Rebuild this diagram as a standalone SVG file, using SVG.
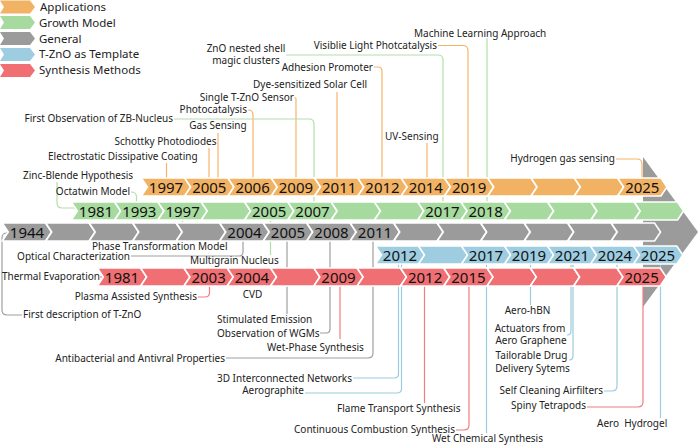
<svg xmlns="http://www.w3.org/2000/svg" xmlns:xlink="http://www.w3.org/1999/xlink" width="700" height="446" viewBox="0 0 700 446">
<style>
text{font-family:"Noto Sans","Open Sans","DejaVu Sans",sans-serif;fill:#222}
.lb{font-size:10px}
.lg{font-size:11.5px}
.yr{font-size:15px;text-anchor:middle;fill:#111}
.e{text-anchor:end}
.m{text-anchor:middle}
.seg{stroke:#fff;stroke-width:1.6}
.o{fill:#F2B263}.g{fill:#A6DA9F}.k{fill:#9B9B9B}.b{fill:#9ECDE2}.r{fill:#EF6F73}
#connectors path{fill:none;stroke-width:1.2}
.co{stroke:#F5B46A}.cg{stroke:#B2E0AB}.ck{stroke:#A0A0A0}.cb{stroke:#9CCCDD}.cr{stroke:#F07D80}
</style>
<defs>
<path id="chev" d="M0,0 H43.3 L49.3,9 L43.3,18 H0 L6,9 Z"/>
<path id="lchev" d="M0,0 H30 L35,6.5 L30,13 H0 L4,6.5 Z"/>
</defs>
<rect width="700" height="446" fill="#fff"/>

<g id="legend">
<use href="#lchev" y="0.5" class="o"/><text class="lg" x="40" y="11">Applications</text>
<use href="#lchev" y="16" class="g"/><text class="lg" x="39" y="26.5">Growth Model</text>
<use href="#lchev" y="32" class="k"/><text class="lg" x="39" y="42.5">General</text>
<use href="#lchev" y="48" class="b"/><text class="lg" x="39" y="58.3">T-ZnO as Template</text>
<use href="#lchev" y="64" class="r"/><text class="lg" x="39" y="74.3">Synthesis Methods</text>
</g>

<g id="arrow-head"><polygon points="643,157 698,232 643,307" fill="#9B9B9B"/></g>

<g id="connectors">
<path class="co" d="M438,45.5 H463 Q468,45.5 468,50.5 V180"/>
<path class="co" d="M374,67 H378 Q382,67 382,71 V180"/>
<path class="co" d="M337,92 V180"/>
<path class="co" d="M294.5,97.5 Q296,97.5 296,99 V180"/>
<path class="co" d="M248,110 Q253,110 253,115 V180"/>
<path class="co" d="M218,133 V180"/>
<path class="co" d="M209,148 V180"/>
<path class="co" d="M166.5,163 V180"/>
<path class="co" d="M427,143 V180"/>
<path class="co" d="M616,159 H637 Q642,159 642,164 V180"/>
<path class="cg" d="M487,38 V203"/>
<path class="cg" d="M286,55 H438 Q443,55 443,60 V203"/>
<path class="cg" d="M174,119 H309 Q314,119 314,124 V203"/>
<path class="cg" d="M57,182 V203 Q57,208 62,208 H76"/>
<path class="cg" d="M131,192 Q136.5,192 136.5,197 V203"/>
<path class="cg" d="M182.5,219 V241"/>
<path class="cg" d="M270.5,219 V255"/>
<path class="ck" d="M131,256 H239 Q243,256 243,252 V240"/>
<path class="ck" d="M22,315 H7 Q2,315 2,310 V238 Q2,233 7,233 H9"/>
<path class="ck" d="M287,240 V314"/>
<path class="ck" d="M320,333 H326 Q330,333 330,329 V240"/>
<path class="ck" d="M226,358 H368 Q373,358 373,353 V240"/>
<path class="cb" d="M353,378 H394 Q398.5,378 398.5,373.5 V263"/>
<path class="cb" d="M305,393 H397 Q401.5,393 401.5,388.5 V263"/>
<path class="cb" d="M486.5,263 V433"/>
<path class="cb" d="M530.5,263 V305"/>
<path class="cb" d="M571,263 V331 Q571,335 567,335"/>
<path class="cb" d="M573,263 V356 Q573,360 569,360"/>
<path class="cb" d="M604,391 H612 Q617,391 617,386 V263"/>
<path class="cb" d="M660.5,263 V418"/>
<path class="cr" d="M100,277 H104"/>
<path class="cr" d="M198,297 H205 Q209.5,297 209.5,292.5 V285"/>
<path class="cr" d="M340,285 V339"/>
<path class="cr" d="M424.5,285 V403"/>
<path class="cr" d="M456,430 H464 Q469,430 469,425 V285"/>
<path class="cr" d="M587,407 H638 Q643,407 643,402 V285"/>
</g>

<g id="row-applications" class="seg o">
<use href="#chev" x="141.35" y="178"/><use href="#chev" x="184.65" y="178"/><use href="#chev" x="227.95" y="178"/><use href="#chev" x="271.25" y="178"/><use href="#chev" x="314.55" y="178"/><use href="#chev" x="357.85" y="178"/><use href="#chev" x="401.15" y="178"/><use href="#chev" x="444.45" y="178"/><use href="#chev" x="487.75" y="178"/><use href="#chev" x="531.05" y="178"/><use href="#chev" x="574.35" y="178"/><use href="#chev" x="617.65" y="178"/>
</g>
<g id="row-growth" class="seg g">
<use href="#chev" x="71.35" y="202"/><use href="#chev" x="114.65" y="202"/><use href="#chev" x="157.95" y="202"/><use href="#chev" x="201.25" y="202"/><use href="#chev" x="244.55" y="202"/><use href="#chev" x="287.85" y="202"/><use href="#chev" x="331.15" y="202"/><use href="#chev" x="374.45" y="202"/><use href="#chev" x="417.75" y="202"/><use href="#chev" x="461.05" y="202"/><use href="#chev" x="504.35" y="202"/><use href="#chev" x="547.65" y="202"/><use href="#chev" x="590.95" y="202"/><use href="#chev" x="634.25" y="202"/>
</g>
<g id="row-general" class="seg k">
<use href="#chev" x="2.25" y="223"/><use href="#chev" x="45.75" y="223"/><use href="#chev" x="89.25" y="223"/><use href="#chev" x="132.75" y="223"/><use href="#chev" x="176.25" y="223"/><use href="#chev" x="219.75" y="223"/><use href="#chev" x="263.25" y="223"/><use href="#chev" x="306.75" y="223"/><use href="#chev" x="350.25" y="223"/><use href="#chev" x="393.75" y="223"/><use href="#chev" x="437.25" y="223"/><use href="#chev" x="480.75" y="223"/><use href="#chev" x="524.25" y="223"/><use href="#chev" x="567.75" y="223"/><use href="#chev" x="611.25" y="223"/>
</g>
<g id="row-template" class="seg b">
<use href="#chev" x="375.5" y="246"/><use href="#chev" x="418.5" y="246"/><use href="#chev" x="461.5" y="246"/><use href="#chev" x="504.5" y="246"/><use href="#chev" x="547.5" y="246"/><use href="#chev" x="590.5" y="246"/><use href="#chev" x="633.5" y="246"/>
</g>
<g id="row-synthesis" class="seg r">
<use href="#chev" x="97.35" y="268"/><use href="#chev" x="140.65" y="268"/><use href="#chev" x="183.95" y="268"/><use href="#chev" x="227.25" y="268"/><use href="#chev" x="270.55" y="268"/><use href="#chev" x="313.85" y="268"/><use href="#chev" x="357.15" y="268"/><use href="#chev" x="400.45" y="268"/><use href="#chev" x="443.75" y="268"/><use href="#chev" x="487.05" y="268"/><use href="#chev" x="530.35" y="268"/><use href="#chev" x="573.65" y="268"/><use href="#chev" x="616.95" y="268"/>
</g>

<g id="years">
<g id="y-app"><text class="yr" x="166" y="193.3">1997</text><text class="yr" x="209.3" y="193.3">2005</text><text class="yr" x="252.6" y="193.3">2006</text><text class="yr" x="295.9" y="193.3">2009</text><text class="yr" x="339.2" y="193.3">2011</text><text class="yr" x="382.5" y="193.3">2012</text><text class="yr" x="425.8" y="193.3">2014</text><text class="yr" x="469.1" y="193.3">2019</text><text class="yr" x="642.3" y="193.3">2025</text></g>
<g id="y-growth"><text class="yr" x="96" y="217.3">1981</text><text class="yr" x="139.3" y="217.3">1993</text><text class="yr" x="182.6" y="217.3">1997</text><text class="yr" x="269.2" y="217.3">2005</text><text class="yr" x="312.5" y="217.3">2007</text><text class="yr" x="442.4" y="217.3">2017</text><text class="yr" x="485.7" y="217.3">2018</text></g>
<g id="y-general"><text class="yr" x="27" y="238.3">1944</text><text class="yr" x="244.5" y="238.3">2004</text><text class="yr" x="288" y="238.3">2005</text><text class="yr" x="331.5" y="238.3">2008</text><text class="yr" x="375" y="238.3">2011</text></g>
<g id="y-template"><text class="yr" x="400" y="261.3">2012</text><text class="yr" x="486" y="261.3">2017</text><text class="yr" x="529" y="261.3">2019</text><text class="yr" x="572" y="261.3">2021</text><text class="yr" x="615" y="261.3">2024</text><text class="yr" x="658" y="261.3">2025</text></g>
<g id="y-synthesis"><text class="yr" x="122" y="283.3">1981</text><text class="yr" x="208.6" y="283.3">2003</text><text class="yr" x="251.9" y="283.3">2004</text><text class="yr" x="338.5" y="283.3">2009</text><text class="yr" x="425.1" y="283.3">2012</text><text class="yr" x="468.4" y="283.3">2015</text><text class="yr" x="641.6" y="283.3">2025</text></g>
</g>

<g id="labels">
<g id="l-ml"><text class="lb" x="414" y="36.5">Machine Learning Approach</text></g>
<g id="l-vis"><text class="lb e" x="437" y="48.5">Visiblie Light Photcatalysis</text></g>
<g id="l-zno"><text class="lb m" x="246" y="51.5">ZnO nested shell</text><text class="lb m" x="246" y="64">magic clusters</text></g>
<g id="l-adh"><text class="lb e" x="373" y="70.5">Adhesion Promoter</text></g>
<g id="l-dye"><text class="lb" x="253" y="88">Dye-sensitized Solar Cell</text></g>
<g id="l-single"><text class="lb e" x="294" y="100.5">Single T-ZnO Sensor</text></g>
<g id="l-photo"><text class="lb e" x="247" y="113">Photocatalysis</text></g>
<g id="l-zb"><text class="lb e" x="173" y="121.5">First Observation of ZB-Nucleus</text></g>
<g id="l-gas"><text class="lb m" x="218" y="129">Gas Sensing</text></g>
<g id="l-uv"><text class="lb" x="385" y="140">UV-Sensing</text></g>
<g id="l-schottky"><text class="lb e" x="216.5" y="145">Schottky Photodiodes</text></g>
<g id="l-esd"><text class="lb" x="48" y="160">Electrostatic Dissipative Coating</text></g>
<g id="l-h2"><text class="lb e" x="615" y="161.5">Hydrogen gas sensing</text></g>
<g id="l-zinc"><text class="lb" x="23" y="179">Zinc-Blende Hypothesis</text></g>
<g id="l-octa"><text class="lb e" x="130" y="195">Octatwin Model</text></g>
<g id="l-phase"><text class="lb" x="92" y="249.5">Phase Transformation Model</text></g>
<g id="l-optical"><text class="lb e" x="130" y="259.5">Optical Characterization</text></g>
<g id="l-multi"><text class="lb" x="190" y="263.5">Multigrain Nucleus</text></g>
<g id="l-thermal"><text class="lb e" x="100" y="280">Thermal Evaporation</text></g>
<g id="l-cvd"><text class="lb m" x="252.5" y="297.5">CVD</text></g>
<g id="l-plasma"><text class="lb e" x="197" y="300">Plasma Assisted Synthesis</text></g>
<g id="l-first"><text class="lb" x="23" y="318">First description of T-ZnO</text></g>
<g id="l-stim"><text class="lb" x="217" y="323">Stimulated Emission</text><text class="lb" x="217" y="336.5">Observation of WGMs</text></g>
<g id="l-wetphase"><text class="lb" x="267" y="350.5">Wet-Phase Synthesis</text></g>
<g id="l-anti"><text class="lb e" x="225" y="361.5">Antibacterial and Antivral Properties</text></g>
<g id="l-3d"><text class="lb e" x="352" y="381.5">3D Interconnected Networks</text></g>
<g id="l-aerog"><text class="lb e" x="304" y="394">Aerographite</text></g>
<g id="l-flame"><text class="lb" x="337" y="411.5">Flame Transport Synthesis</text></g>
<g id="l-cont"><text class="lb e" x="455" y="432.5">Continuous Combustion Synthesis</text></g>
<g id="l-wetchem"><text class="lb" x="432" y="441.5">Wet Chemical Synthesis</text></g>
<g id="l-hbn"><text class="lb m" x="527.5" y="314">Aero-hBN</text></g>
<g id="l-act"><text class="lb m" x="530" y="331.5">Actuators from</text><text class="lb m" x="531" y="344">Aero Graphene</text></g>
<g id="l-drug"><text class="lb m" x="531.5" y="359">Tailorable Drug</text><text class="lb m" x="532.5" y="371.5">Delivery Sytems</text></g>
<g id="l-self"><text class="lb e" x="603" y="394">Self Cleaning Airfilters</text></g>
<g id="l-spiny"><text class="lb e" x="586" y="409">Spiny Tetrapods</text></g>
<g id="l-hydrogel"><text class="lb" x="597" y="427" xml:space="preserve">Aero  Hydrogel</text></g>
</g>
</svg>
